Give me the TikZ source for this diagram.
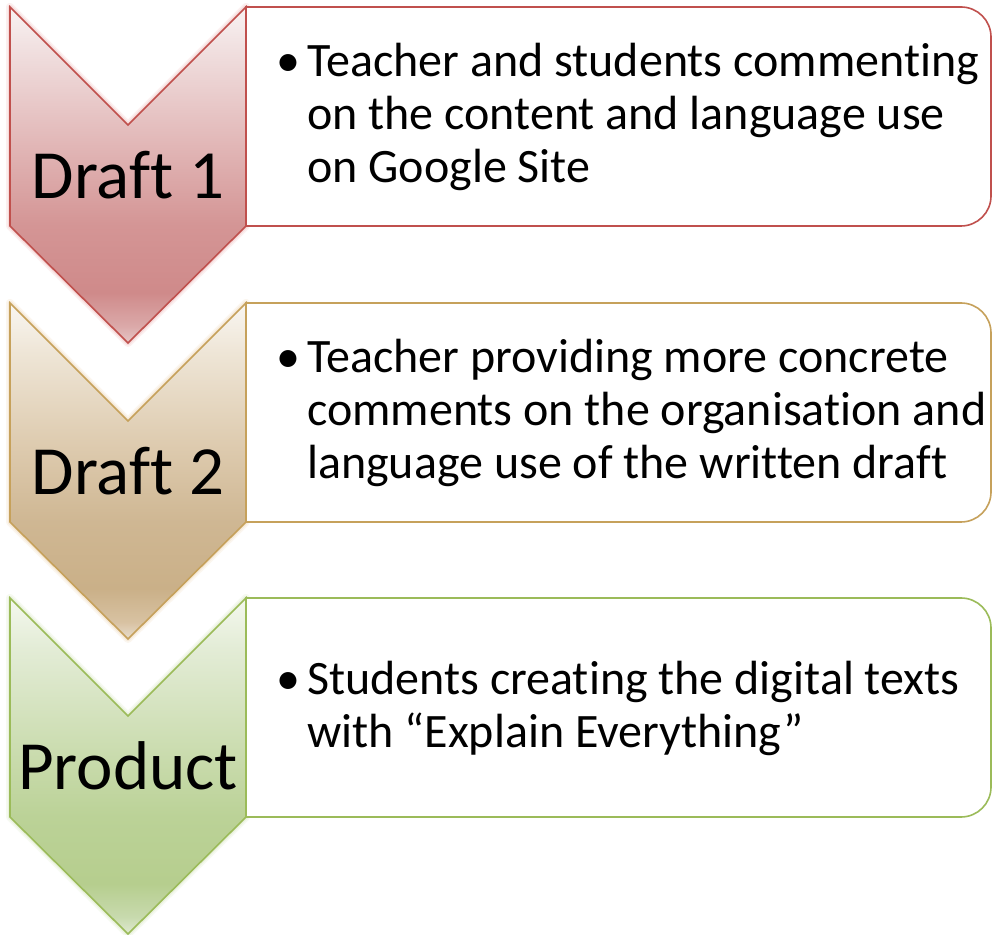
\documentclass[tikz,border=0pt]{standalone}
\usepackage{fontspec}
\setmainfont{Carlito}[Ligatures={NoCommon}]
\definecolor{redline}{HTML}{C0504D}
\definecolor{tanline}{HTML}{C6A15B}
\definecolor{greenline}{HTML}{9BBB59}
\definecolor{redglow}{HTML}{F2C4C4}
\definecolor{tanglow}{HTML}{F0DCC0}
\definecolor{greenglow}{HTML}{DCEBC8}
\definecolor{ra}{HTML}{E6C6C6}\definecolor{rb}{HTML}{DBA9A9}\definecolor{rc}{HTML}{CF8A8A}
\definecolor{rd}{HTML}{D49595}\definecolor{re}{HTML}{E2B8B8}\definecolor{rf}{HTML}{EFDCDC}\definecolor{rg}{HTML}{F8F2F2}
\definecolor{ta}{HTML}{E8DDCD}\definecolor{tb}{HTML}{D8C2A2}\definecolor{tc}{HTML}{CAB088}
\definecolor{td}{HTML}{CFB793}\definecolor{te}{HTML}{DFCDB2}\definecolor{tf}{HTML}{EEE5D6}\definecolor{tg}{HTML}{F9F6F1}
\definecolor{ga}{HTML}{E0EAD2}\definecolor{gb}{HTML}{C8DAAE}\definecolor{gc}{HTML}{B6CE8E}
\definecolor{gd}{HTML}{BBD297}\definecolor{ge}{HTML}{CFDFB6}\definecolor{gf}{HTML}{E3ECD6}\definecolor{gg}{HTML}{F4F8EE}
\pgfdeclareverticalshading{redsh}{100bp}{
  color(0bp)=(ra); color(25bp)=(ra); color(27.5bp)=(rb); color(32.5bp)=(rc);
  color(42.5bp)=(rd); color(55bp)=(re); color(67.5bp)=(rf); color(75bp)=(rg); color(100bp)=(rg)}
\pgfdeclareverticalshading{tansh}{100bp}{
  color(0bp)=(ta); color(25bp)=(ta); color(27.5bp)=(tb); color(32.5bp)=(tc);
  color(42.5bp)=(td); color(55bp)=(te); color(67.5bp)=(tf); color(75bp)=(tg); color(100bp)=(tg)}
\pgfdeclareverticalshading{greensh}{100bp}{
  color(0bp)=(ga); color(25bp)=(ga); color(27.5bp)=(gb); color(32.5bp)=(gc);
  color(42.5bp)=(gd); color(55bp)=(ge); color(67.5bp)=(gf); color(75bp)=(gg); color(100bp)=(gg)}
\tikzset{
  chev/.style={line width=1.6pt, line join=miter},
  glowa/.style={line width=8pt, opacity=0.25, line join=round},
  glowb/.style={line width=4.5pt, opacity=0.45, line join=round},
  rbox/.style={line width=1.6pt, fill=white},
  lab/.style={font=\fontsize{69}{69}\selectfont, inner sep=0pt},
  txt/.style={font=\fontsize{48}{53}\selectfont, inner sep=0pt, anchor=west},
}
\newcommand{\chevpath}{(10,0) -- (128,-118) -- (246,0) -- (246,-219) -- (128,-336) -- (10,-219) -- cycle}
\newcommand{\boxpath}{(246,0) -- (961,0) arc[start angle=90, end angle=0, radius=30] -- (991,-189) arc[start angle=0, end angle=-90, radius=30] -- (246,-219) -- cycle}
\newenvironment{bulletlist}{\begin{tabular}{@{}p{31pt}@{}l@{}}}{\end{tabular}}
\begin{document}
\begin{tikzpicture}[x=1pt,y=1pt]
\useasboundingbox (0,0) rectangle (992,934);
\fill[white] (0,0) rectangle (992,934);
% Row 1
\begin{scope}[shift={(0,927)}]
  \draw[redglow, glowa] \chevpath;
  \draw[redglow, glowb] \chevpath;
  \draw[draw=redline, rbox] \boxpath;
  \draw[chev, draw=redline, shading=redsh] \chevpath;
  \node[lab] (d1) at (128,-168) {Draft 1};
  \node[txt] (t1) at (276,-112) {\begin{bulletlist}•&Teacher and students commenting\\&on the content and language use\\&on Google Site\end{bulletlist}};
\end{scope}
% Row 2
\begin{scope}[shift={(0,631)}]
  \draw[tanglow, glowa] \chevpath;
  \draw[tanglow, glowb] \chevpath;
  \draw[draw=tanline, rbox] \boxpath;
  \draw[chev, draw=tanline, shading=tansh] \chevpath;
  \node[lab] (d2) at (128,-168) {Draft 2};
  \node[txt] (t2) at (276,-112) {\begin{bulletlist}•&Teacher providing more concrete\\&comments on the organisation and\\&language use of the written draft\end{bulletlist}};
\end{scope}
% Row 3
\begin{scope}[shift={(0,336)}]
  \draw[greenglow, glowa] \chevpath;
  \draw[greenglow, glowb] \chevpath;
  \draw[draw=greenline, rbox] \boxpath;
  \draw[chev, draw=greenline, shading=greensh] \chevpath;
  \node[lab] (pr) at (128,-168) {Product};
  \node[txt] (t3) at (276,-112) {\begin{bulletlist}•&Students creating the digital texts\\&with “Explain Everything”\end{bulletlist}};
\end{scope}
\end{tikzpicture}
\end{document}
